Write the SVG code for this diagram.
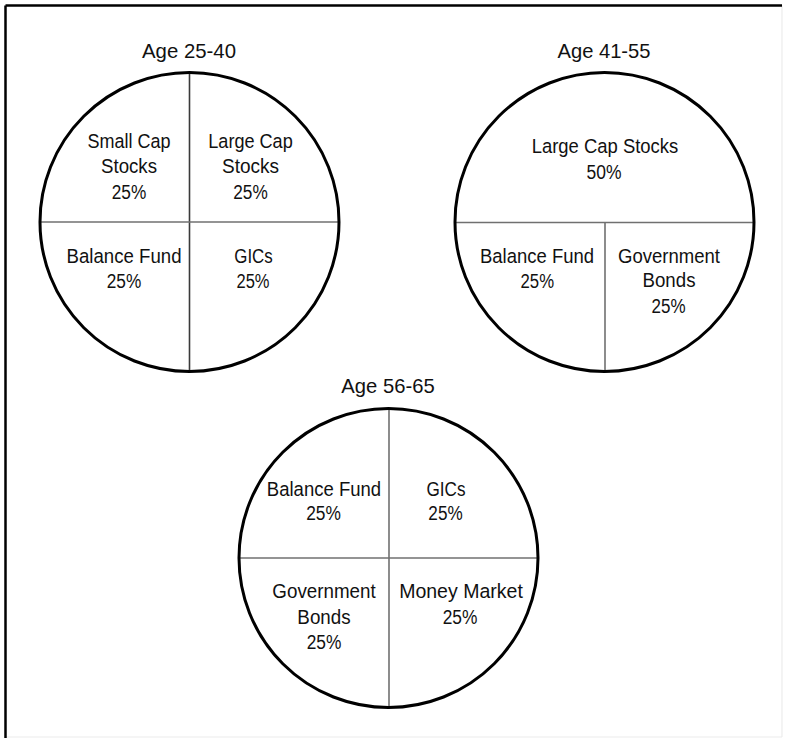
<svg xmlns="http://www.w3.org/2000/svg" width="785" height="738" viewBox="0 0 785 738">
<style>
  .pie { fill: none; stroke: #000; stroke-width: 3; }
  .div { stroke: #707070; stroke-width: 1.6; }
  .divd { stroke: #3a3a3a; stroke-width: 1.6; }
  .t { font-family: "Liberation Sans", Arial, sans-serif; font-size: 20.5px; fill: #111; text-anchor: middle; }
  .title { font-family: "Liberation Sans", Arial, sans-serif; font-size: 21px; fill: #111; text-anchor: middle; }
</style>
<rect x="0" y="0" width="785" height="738" fill="#fff"/>
<g id="frame">
  <line x1="782" y1="5.5" x2="782" y2="737" stroke="#ececec" stroke-width="1.2"/>
  <line x1="5.5" y1="737" x2="782" y2="737" stroke="#ececec" stroke-width="1.2"/>
  <line x1="5.5" y1="5.5" x2="782" y2="5.5" stroke="#000" stroke-width="2.5"/>
  <line x1="5.5" y1="5.5" x2="5.5" y2="738" stroke="#000" stroke-width="2.5"/>
</g>
<g id="connectors">
  <line class="divd" x1="189.5" y1="72" x2="189.5" y2="371"/>
  <line class="div" x1="40" y1="222" x2="339" y2="222"/>
  <line class="div" x1="455" y1="222.5" x2="754" y2="222.5"/>
  <line class="div" x1="605" y1="222.5" x2="605" y2="371"/>
  <line class="div" x1="389" y1="408" x2="389" y2="708"/>
  <line class="div" x1="239" y1="558" x2="538" y2="558"/>
</g>
<g id="pie1">
  <circle class="pie" cx="189.5" cy="222" r="149.5"/>
  <text class="title" x="189" y="58" textLength="94" lengthAdjust="spacingAndGlyphs">Age 25-40</text>
  <text class="t" x="129" y="148" textLength="83" lengthAdjust="spacingAndGlyphs">Small Cap</text>
  <text class="t" x="129" y="173" textLength="56" lengthAdjust="spacingAndGlyphs">Stocks</text>
  <text class="t" x="129" y="199" textLength="34.5" lengthAdjust="spacingAndGlyphs">25%</text>
  <text class="t" x="250.5" y="148" textLength="84.5" lengthAdjust="spacingAndGlyphs">Large Cap</text>
  <text class="t" x="250.5" y="173" textLength="57" lengthAdjust="spacingAndGlyphs">Stocks</text>
  <text class="t" x="250.5" y="199" textLength="34.5" lengthAdjust="spacingAndGlyphs">25%</text>
  <text class="t" x="124" y="263" textLength="115" lengthAdjust="spacingAndGlyphs">Balance Fund</text>
  <text class="t" x="124" y="288" textLength="34.5" lengthAdjust="spacingAndGlyphs">25%</text>
  <text class="t" x="253.5" y="263" textLength="38.5" lengthAdjust="spacingAndGlyphs">GICs</text>
  <text class="t" x="253" y="288" textLength="33" lengthAdjust="spacingAndGlyphs">25%</text>
</g>
<g id="pie2">
  <circle class="pie" cx="604.5" cy="222" r="149.5"/>
  <text class="title" x="604" y="58" textLength="93" lengthAdjust="spacingAndGlyphs">Age 41-55</text>
  <text class="t" x="605" y="153" textLength="146.6" lengthAdjust="spacingAndGlyphs">Large Cap Stocks</text>
  <text class="t" x="604" y="179" textLength="35" lengthAdjust="spacingAndGlyphs">50%</text>
  <text class="t" x="537" y="263" textLength="114" lengthAdjust="spacingAndGlyphs">Balance Fund</text>
  <text class="t" x="537.3" y="288" textLength="33.5" lengthAdjust="spacingAndGlyphs">25%</text>
  <text class="t" x="669" y="263" textLength="102" lengthAdjust="spacingAndGlyphs">Government</text>
  <text class="t" x="669" y="287" textLength="53" lengthAdjust="spacingAndGlyphs">Bonds</text>
  <text class="t" x="668.5" y="313" textLength="34" lengthAdjust="spacingAndGlyphs">25%</text>
</g>
<g id="pie3">
  <circle class="pie" cx="388.5" cy="558" r="149.5"/>
  <text class="title" x="388" y="393" textLength="93.3" lengthAdjust="spacingAndGlyphs">Age 56-65</text>
  <text class="t" x="324" y="496" textLength="114.3" lengthAdjust="spacingAndGlyphs">Balance Fund</text>
  <text class="t" x="323.5" y="520" textLength="34.7" lengthAdjust="spacingAndGlyphs">25%</text>
  <text class="t" x="446" y="496" textLength="39" lengthAdjust="spacingAndGlyphs">GICs</text>
  <text class="t" x="445.5" y="520" textLength="34.3" lengthAdjust="spacingAndGlyphs">25%</text>
  <text class="t" x="324" y="598" textLength="103.3" lengthAdjust="spacingAndGlyphs">Government</text>
  <text class="t" x="324" y="624" textLength="53.3" lengthAdjust="spacingAndGlyphs">Bonds</text>
  <text class="t" x="324" y="649" textLength="34.7" lengthAdjust="spacingAndGlyphs">25%</text>
  <text class="t" x="461" y="598" textLength="123.7" lengthAdjust="spacingAndGlyphs">Money Market</text>
  <text class="t" x="460" y="624" textLength="34.7" lengthAdjust="spacingAndGlyphs">25%</text>
</g>
</svg>
